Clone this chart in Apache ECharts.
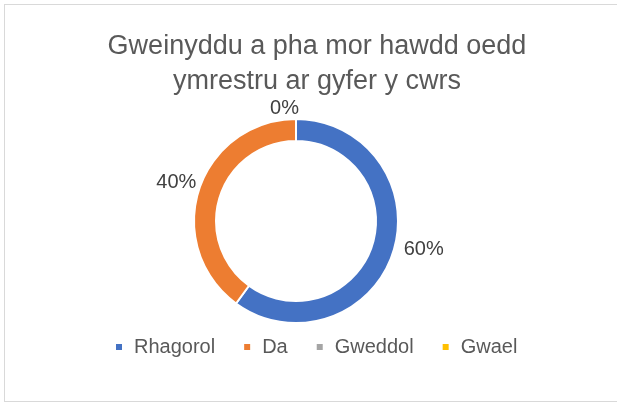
<!DOCTYPE html>
<html>
<head>
<meta charset="utf-8">
<script src="https://cdn.jsdelivr.net/npm/echarts@6/dist/echarts.min.js"></script>
<style>
  html, body { margin: 0; padding: 0; background: #fff; overflow: hidden; }
  #main { position: absolute; left: 4px; top: 4px; width: 626px; height: 398px; border: 1px solid #d9d9d9; box-sizing: border-box; }
</style>
</head>
<body>
<div id="main"></div>
<script>
// Gwerthoedd y siart
var titleText = 'Gweinyddu a pha mor hawdd oedd\nymrestru ar gyfer y cwrs'
var categories = ['Rhagorol', 'Da', 'Gweddol', 'Gwael']
var values = [60, 40, 0, 0]
var colors = ['#4472c4', '#ed7d31', '#a5a5a5', '#ffc000']

var chart = echarts.init(document.getElementById('main'))
chart.setOption({
  color: colors,
  title: {
    text: titleText,
    left: 'center',
    top: 19,
    textStyle: {
      fontFamily: 'Liberation Sans',
      fontSize: 27,
      fontWeight: 'normal',
      color: '#595959',
      lineHeight: 35
    }
  },
  legend: {
    data: categories,
    top: 327,
    left: 104,
    itemWidth: 8,
    itemHeight: 8,
    itemGap: 27,
    icon: 'rect',
    textStyle: {
      fontFamily: 'Liberation Sans',
      fontSize: 20,
      color: '#595959',
      padding: [0, 0, 0, 6]
    }
  },
  series: [
    {
      type: 'pie',
      radius: [80, 102],
      center: [291, 216],
      startAngle: 90,
      clockwise: true,
      avoidLabelOverlap: false,
      labelLayout: function(params) {
        return {
          hideOverlap: true,
          dy: -5,
          dx: params.align === 'right' ? 8 : 0
        }
      },
      itemStyle: {
        borderColor: '#fff',
        borderWidth: 2
      },
      label: {
        show: true,
        position: 'outside',
        fontFamily: 'Liberation Sans',
        fontSize: 20,
        color: '#404040',
        formatter: function(p) {
          return Math.round(p.percent) + '%'
        }
      },
      labelLine: {
        show: false,
        length: 6,
        length2: 0
      },
      data: categories.map(function(name, i) {
        return { name: name, value: values[i] }
      })
    }
  ]
})
</script>
</body>
</html>
